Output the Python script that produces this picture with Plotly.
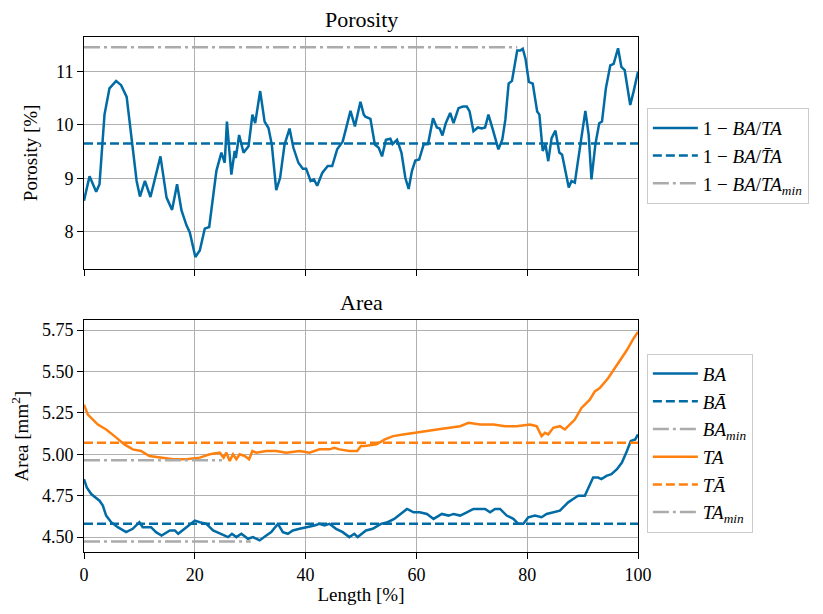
import plotly.graph_objects as go

# ---------------- data ----------------
length_por = [0, 1.0, 2.2, 2.8, 3.7, 4.6, 5.8, 6.7, 7.7, 8.55, 9.5, 10.1, 11.0, 12.0, 12.9, 13.8,
              14.9, 15.9, 16.8, 17.6, 18.5, 19.1, 20.1, 20.9, 21.8, 22.6, 23.9, 24.8, 25.4, 25.8,
              26.6, 27.2, 27.4, 28.0, 28.8, 29.7, 30.4, 30.9, 31.8, 32.6, 33.3, 33.9, 34.7, 35.4,
              36.2, 37.1, 37.8, 38.7, 39.5, 40.1, 40.9, 41.5, 42.1, 43.0, 44.0, 44.8, 45.7, 46.7,
              47.4, 48.1, 48.9, 49.9, 50.5, 50.8, 51.7, 52.5, 53.2, 53.8, 54.5, 55.3, 55.7, 56.5,
              57.3, 58.0, 58.6, 59.2, 59.8, 60.5, 61.3, 62.1, 63.0, 63.7, 64.2, 64.7, 65.3, 66.1,
              66.7, 67.6, 68.4, 69.1, 69.6, 70.3, 71.1, 71.8, 72.4, 73.0, 73.8, 74.8, 75.5, 76.05,
              76.65, 77.25, 78.2, 78.8, 79.2, 79.7, 80.3, 81.0, 81.8, 82.2, 82.8, 83.3, 83.8, 84.4,
              85.1, 85.8, 86.3, 86.9, 87.5, 88.0, 88.6, 89.6, 90.5, 91.1, 91.6, 92.3, 93.0, 93.5,
              94.2, 95.0, 95.6, 96.4, 97.0, 97.6, 98.6, 99.2, 100.0]
porosity = [8.58, 9.04, 8.75, 8.89, 10.19, 10.68, 10.82, 10.74, 10.52, 9.81, 8.95, 8.66, 8.95, 8.65,
            9.04, 9.41, 8.64, 8.41, 8.89, 8.40, 8.12, 7.99, 7.53, 7.65, 8.06, 8.09, 9.14, 9.48,
            9.29, 10.06, 9.07, 9.51, 9.38, 9.81, 9.48, 9.60, 10.19, 10.03, 10.63, 10.06, 9.94,
            9.63, 8.78, 9.01, 9.63, 9.93, 9.57, 9.29, 9.18, 9.18, 8.95, 8.98, 8.86, 9.10, 9.23,
            9.23, 9.54, 9.69, 9.97, 10.26, 9.97, 10.43, 10.19, 10.15, 10.11, 9.63, 9.57, 9.41,
            9.72, 9.74, 9.64, 9.72, 9.48, 9.01, 8.80, 9.14, 9.33, 9.35, 9.63, 9.64, 10.12, 9.95,
            9.93, 9.80, 10.03, 10.22, 10.03, 10.31, 10.34, 10.34, 10.25, 9.88, 9.95, 9.93, 9.95,
            10.19, 9.91, 9.54, 9.72, 10.09, 10.77, 10.82, 11.39, 11.39, 11.42, 11.23, 10.80, 10.77,
            10.25, 10.19, 9.51, 9.63, 9.32, 9.75, 9.89, 9.48, 9.44, 9.14, 8.83, 8.95, 8.92, 9.63,
            10.26, 9.81, 8.98, 9.63, 10.03, 10.06, 10.68, 11.11, 11.14, 11.43, 11.08, 11.02, 10.37,
            10.62, 10.99]

length_ba = [0, 0.5, 1.3, 2.8, 3.4, 4.0, 4.9, 6.1, 7.6, 8.8, 10.0, 10.6, 12.1, 13.0, 14.0, 15.5,
             16.4, 17.0, 18.5, 20.0, 20.9, 22.1, 23.3, 24.5, 26.0, 26.7, 27.5, 28.4, 29.6, 30.5,
             31.7, 32.9, 33.8, 35.0, 35.9, 36.8, 37.7, 38.9, 40.4, 41.6, 42.5, 43.4, 44.3, 45.5,
             46.7, 47.9, 48.8, 49.4, 50.9, 52.1, 53.6, 54.8, 56.0, 57.2, 58.3, 59.5, 60.6, 61.9,
             63.1, 64.6, 65.8, 66.7, 67.9, 69.1, 70.3, 71.5, 72.4, 73.3, 74.2, 75.1, 76.3, 77.5,
             78.4, 79.3, 80.2, 81.4, 82.6, 83.5, 84.7, 85.9, 86.8, 87.4, 88.3, 89.2, 90.4, 91.3,
             91.9, 92.8, 93.4, 94.3, 95.2, 96.2, 97.1, 98.0, 98.7, 99.5, 100.0]
ba = [4.85, 4.80, 4.76, 4.72, 4.69, 4.63, 4.59, 4.56, 4.53, 4.55, 4.59, 4.56, 4.56, 4.53, 4.51,
      4.54, 4.54, 4.52, 4.56, 4.60, 4.59, 4.58, 4.54, 4.52, 4.50, 4.52, 4.50, 4.52, 4.49, 4.50,
      4.48, 4.51, 4.53, 4.58, 4.53, 4.52, 4.54, 4.55, 4.56, 4.57, 4.58, 4.57, 4.58, 4.55, 4.53,
      4.50, 4.52, 4.50, 4.54, 4.55, 4.58, 4.59, 4.61, 4.64, 4.67, 4.65, 4.65, 4.64, 4.61, 4.64,
      4.63, 4.64, 4.63, 4.65, 4.67, 4.67, 4.67, 4.65, 4.67, 4.67, 4.63, 4.61, 4.58, 4.58, 4.62,
      4.63, 4.62, 4.64, 4.65, 4.66, 4.69, 4.71, 4.73, 4.75, 4.75, 4.81, 4.86, 4.86, 4.85, 4.87,
      4.88, 4.91, 4.95, 5.02, 5.08, 5.09, 5.12]

length_ta = [0, 0.7, 2.5, 4.0, 5.5, 7.3, 8.8, 10.3, 11.8, 13.6, 16.1, 18.5, 20.9, 22.7, 24.5, 25.2,
             25.7, 26.3, 26.9, 27.5, 28.1, 29.0, 29.8, 30.4, 31.1, 32.9, 34.7, 36.5, 38.9, 40.7,
             42.5, 44.3, 45.2, 46.1, 47.9, 49.3, 50.0, 50.7, 52.8, 54.3, 55.8, 57.6, 60.05, 61.6,
             63.7, 65.5, 67.9, 69.4, 71.5, 73.9, 76.0, 78.1, 80.5, 81.7, 82.6, 83.2, 83.8, 84.7,
             85.9, 86.8, 87.7, 88.6, 89.8, 91.3, 92.2, 93.1, 94.6, 96.2, 98.0, 99.2, 100.0]
ta = [5.30, 5.24, 5.18, 5.15, 5.11, 5.06, 5.03, 5.02, 4.99, 4.98, 4.97, 4.97, 4.98, 5.00, 5.01,
      4.98, 5.01, 4.96, 5.00, 4.97, 5.00, 4.99, 4.97, 5.02, 5.01, 5.02, 5.02, 5.01, 5.02, 5.01,
      5.03, 5.03, 5.04, 5.03, 5.02, 5.02, 5.05, 5.05, 5.06, 5.09, 5.11, 5.12, 5.13, 5.14, 5.15,
      5.16, 5.17, 5.19, 5.18, 5.18, 5.17, 5.17, 5.18, 5.17, 5.11, 5.13, 5.12, 5.16, 5.17, 5.15,
      5.18, 5.21, 5.28, 5.33, 5.38, 5.40, 5.46, 5.54, 5.63, 5.70, 5.74]

full_span = [0, 100]
por_mean = 9.65
por_min_value = 11.45
por_min_span = [0, 78.2]
ba_mean = 4.58
ba_min = 4.474
ba_min_span = [0, 30.1]
ta_mean = 5.07
ta_min = 4.964
ta_min_span = [0, 24.9]

x_ticks = [0, 20, 40, 60, 80, 100]
por_ticks = [8, 9, 10, 11]
area_ticks = [4.50, 4.75, 5.00, 5.25, 5.50, 5.75]

# ---------------- style ----------------
BLUE = "#006BA4"
ORANGE = "#FF800E"
GRAY = "#ABABAB"
FONT = "Liberation Serif, Times New Roman, DejaVu Serif, serif"
LW = 2.5
DASH = "9px,4px"
DASHDOT = "16px,4px,3px,4px"

fig = go.Figure()

def line(x, y, color, dash, name, legend, xa, ya):
    fig.add_trace(go.Scatter(x=x, y=y, mode="lines", name=name, legend=legend,
                             xaxis=xa, yaxis=ya,
                             line=dict(color=color, width=LW, dash=dash)))

line(length_por, porosity, BLUE, "solid", "1 − <i>BA</i>/<i>TA</i>", "legend", "x", "y")
line(full_span, [por_mean] * 2, BLUE, DASH, "1 − <i>BA</i>/<i>T\u0304A</i>", "legend", "x", "y")
line(por_min_span, [por_min_value] * 2, GRAY, DASHDOT,
     "1 − <i>BA</i>/<i>TA<sub>min</sub></i>", "legend", "x", "y")

line(length_ba, ba, BLUE, "solid", "<i>BA</i>", "legend2", "x2", "y2")
line(full_span, [ba_mean] * 2, BLUE, DASH, "<i>B\u0100</i>", "legend2", "x2", "y2")
line(ba_min_span, [ba_min] * 2, GRAY, DASHDOT, "<i>BA<sub>min</sub></i>", "legend2", "x2", "y2")
line(length_ta, ta, ORANGE, "solid", "<i>TA</i>", "legend2", "x2", "y2")
line(full_span, [ta_mean] * 2, ORANGE, DASH, "<i>T\u0100</i>", "legend2", "x2", "y2")
line(ta_min_span, [ta_min] * 2, GRAY, DASHDOT, "<i>TA<sub>min</sub></i>", "legend2", "x2", "y2")

axis_common = dict(showline=True, linecolor="black", linewidth=1, mirror=True,
                   ticks="outside", ticklen=6, tickwidth=1, tickcolor="black",
                   showgrid=True, gridcolor="#b0b0b0", gridwidth=1, zeroline=False,
                   tickfont=dict(family=FONT, size=18, color="black"))

fig.update_layout(
    width=815, height=606,
    margin=dict(l=76, r=185, t=29, b=57),
    plot_bgcolor="white", paper_bgcolor="white",
    font=dict(family=FONT, size=18, color="black"),
    xaxis=dict(domain=[0, 1], anchor="y", range=[0, 100], tickvals=x_ticks,
               showticklabels=False, **axis_common),
    yaxis=dict(domain=[0.55, 1], anchor="x", range=[7.31, 11.64], tickvals=por_ticks,
               title=dict(text="Porosity [%]", standoff=12, font=dict(family=FONT, size=19)),
               **axis_common),
    xaxis2=dict(domain=[0, 1], anchor="y2", range=[0, 100], tickvals=x_ticks,
                title=dict(text="Length [%]", standoff=4, font=dict(family=FONT, size=19)),
                **axis_common),
    yaxis2=dict(domain=[0, 0.45], anchor="x2", range=[4.41, 5.81], tickvals=area_ticks,
                tickformat=".2f",
                title=dict(text="Area [mm<sup>2</sup>]", standoff=8, font=dict(family=FONT, size=19)),
                **axis_common),
    legend=dict(x=1.016, y=0.862, xanchor="left", yanchor="top", itemwidth=45,
                bordercolor="#cccccc", borderwidth=1, bgcolor="white",
                font=dict(family=FONT, size=19), tracegroupgap=0),
    legend2=dict(x=1.016, y=0.385, xanchor="left", yanchor="top", itemwidth=45,
                 bordercolor="#cccccc", borderwidth=1, bgcolor="white",
                 font=dict(family=FONT, size=19), tracegroupgap=0),
    annotations=[
        dict(text="Porosity", xref="x domain", yref="y domain", x=0.5, y=1,
             xanchor="center", yanchor="bottom", yshift=3, showarrow=False,
             font=dict(family=FONT, size=22)),
        dict(text="Area", xref="x2 domain", yref="y2 domain", x=0.5, y=1,
             xanchor="center", yanchor="bottom", yshift=3, showarrow=False,
             font=dict(family=FONT, size=22)),
    ],
)

fig.write_html("out.html")
